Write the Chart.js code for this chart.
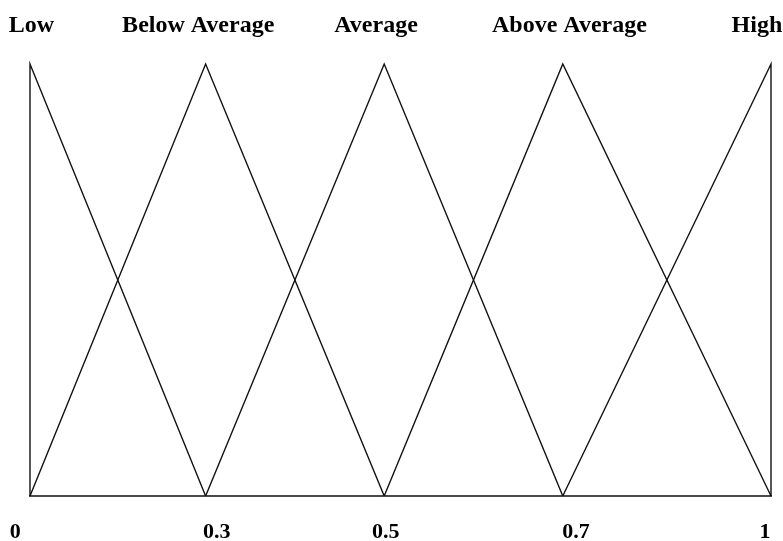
<!DOCTYPE html>
<html lang="en">
<head>
    <meta charset="UTF-8">
    <title>Membership functions</title>
    <script src="https://cdn.jsdelivr.net/npm/chart.js"></script>
    <style>
        body {
            margin: 0;
            padding: 0;
            background-color: #ffffff;
        }

        .wrap {
            width: 783px;
            height: 541px;
        }
    </style>
</head>
<body>

    <div class="wrap">
        <canvas id="fuzzyChart" width="783" height="541"></canvas>
    </div>

    <script>
        // horizontal position of each breakpoint as drawn (the original axis is not to scale)
        const xPos = [0, 0.237, 0.478, 0.719, 1];

        // bottom labels and where they sit along the axis
        const xLabels = ['0', '0.3', '0.5', '0.7', '1'];
        const xLabelPos = [-0.02, 0.252, 0.48, 0.737, 0.992];

        // set names along the top
        const setNames = ['Low', 'Below Average', 'Average', 'Above Average', 'High'];
        const setNamePos = [0.002, 0.227, 0.467, 0.728, 0.981];

        // each set: breakpoint index and membership degree
        const lowAt = [0, 0, 1],   lowMu = [0, 1, 0];
        const belowAt = [0, 1, 2], belowMu = [0, 1, 0];
        const avgAt = [1, 2, 3],   avgMu = [0, 1, 0];
        const aboveAt = [2, 3, 4], aboveMu = [0, 1, 0];
        const highAt = [3, 4, 4],  highMu = [0, 1, 0];

        function toPoints(at, mu) {
            return at.map((i, k) => ({ x: xPos[i], y: mu[k] }));
        }

        function lineSet(name, at, mu) {
            return {
                label: name,
                data: toPoints(at, mu),
                borderColor: '#111111',
                borderWidth: 1.4,
                pointRadius: 0,
                tension: 0,
                clip: false
            };
        }

        // texts above and below the plot
        const labelPlugin = {
            id: 'labels',
            afterDraw(chart) {
                const ctx = chart.ctx;
                const xs = chart.scales.x;
                ctx.save();
                ctx.fillStyle = '#000000';
                ctx.textAlign = 'center';
                ctx.textBaseline = 'alphabetic';
                ctx.font = 'bold 24px "Liberation Serif", "Times New Roman", serif';
                setNames.forEach((t, i) => {
                    ctx.fillText(t, xs.getPixelForValue(setNamePos[i]), 32);
                });
                ctx.font = 'bold 22px "Liberation Serif", "Times New Roman", serif';
                xLabels.forEach((t, i) => {
                    ctx.fillText(t, xs.getPixelForValue(xLabelPos[i]), 538);
                });
                ctx.restore();
            }
        };

        const config = {
            type: 'line',
            data: {
                datasets: [
                    lineSet(setNames[0], lowAt, lowMu),
                    lineSet(setNames[1], belowAt, belowMu),
                    lineSet(setNames[2], avgAt, avgMu),
                    lineSet(setNames[3], aboveAt, aboveMu),
                    lineSet(setNames[4], highAt, highMu)
                ]
            },
            options: {
                responsive: false,
                animation: false,
                layout: {
                    padding: { left: 30, right: 12, top: 64, bottom: 45 }
                },
                plugins: {
                    legend: { display: false },
                    tooltip: { enabled: false }
                },
                scales: {
                    x: {
                        type: 'linear',
                        min: 0,
                        max: 1,
                        ticks: { display: false },
                        grid: { display: false, drawTicks: false },
                        border: { display: true, color: '#4a4a4a', width: 2 }
                    },
                    y: {
                        display: false,
                        min: 0,
                        max: 1
                    }
                }
            },
            plugins: [labelPlugin]
        };

        new Chart(document.getElementById('fuzzyChart'), config);
    </script>
</body>
</html>
